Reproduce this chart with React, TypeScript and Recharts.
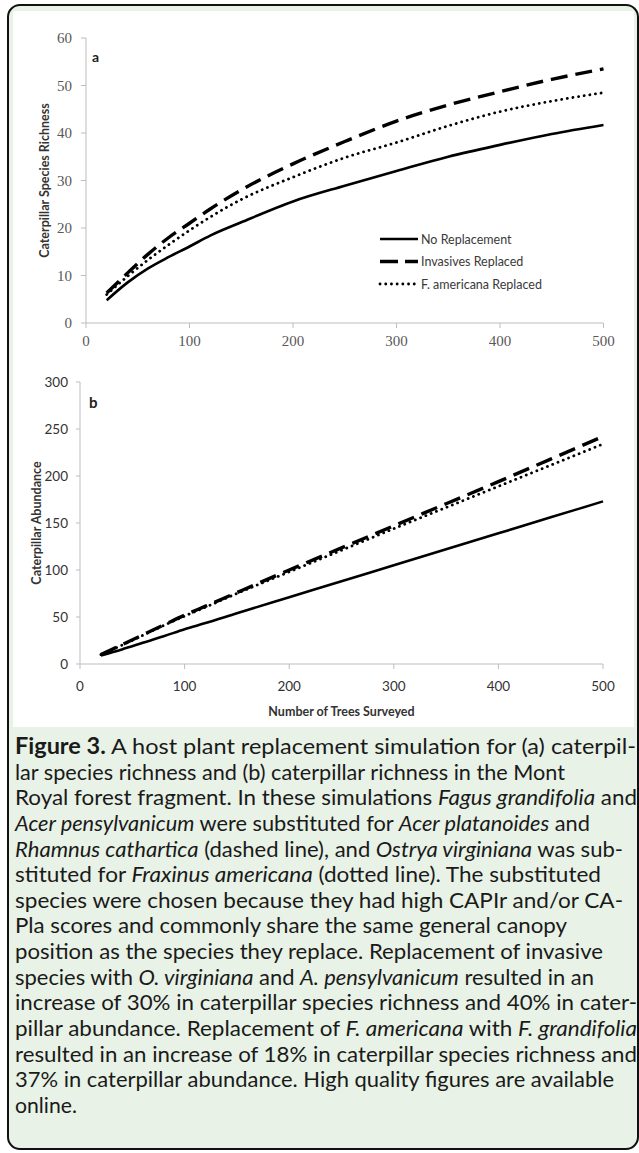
import React from 'react';
import { LineChart, Line, XAxis, YAxis } from 'recharts';

// ---- data ----
const trees = [20, 40, 60, 80, 100, 120, 150, 200, 250, 300, 350, 400, 450, 500];
const richNoReplacement = [4.8, 8.5, 11.5, 13.9, 16.1, 18.4, 21.2, 25.6, 28.9, 32.0, 35.0, 37.5, 39.8, 41.7];
const richInvasives = [6.3, 10.5, 14.5, 18.0, 21.0, 24.0, 28.0, 33.5, 38.2, 42.5, 45.9, 48.7, 51.3, 53.5];
const richFraxinus = [6.0, 9.8, 13.3, 16.5, 19.5, 22.3, 26.0, 30.7, 34.8, 38.0, 41.5, 44.5, 46.7, 48.5];
const abunNoReplacement = [9, 15.5, 22.5, 29.5, 37, 43.5, 54, 71, 88, 105, 122, 139, 156, 173];
const abunInvasives = [10, 20.5, 31, 41.5, 52, 61.5, 76, 100, 123.5, 147, 170.5, 194, 218, 242];
const abunFraxinus = [10, 20, 30.5, 41, 51, 60.5, 75, 98, 121, 144, 166.5, 189, 211.5, 234];
const xTicks = [0, 100, 200, 300, 400, 500];
const richTicks = [0, 10, 20, 30, 40, 50, 60];
const abunTicks = [0, 50, 100, 150, 200, 250, 300];
const seriesNames = ['No Replacement', 'Invasives Replaced', 'F. americana Replaced'];

// caption lines: [text, italic?] segments
const captionLines: [string, string][][] = [
  [['Figure 3.', 'b'], [' A host plant replacement simulation for (a) caterpil-', 'n']],
  [['lar species richness and (b) caterpillar richness in the Mont', 'n']],
  [['Royal forest fragment. In these simulations ', 'n'], ['Fagus grandifolia', 'i'], [' and', 'n']],
  [['Acer pensylvanicum', 'i'], [' were substituted for ', 'n'], ['Acer platanoides', 'i'], [' and', 'n']],
  [['Rhamnus cathartica', 'i'], [' (dashed line), and ', 'n'], ['Ostrya virginiana', 'i'], [' was sub-', 'n']],
  [['stituted for ', 'n'], ['Fraxinus americana', 'i'], [' (dotted line). The substituted', 'n']],
  [['species were chosen because they had high CAPIr and/or CA-', 'n']],
  [['Pla scores and commonly share the same general canopy', 'n']],
  [['position as the species they replace. Replacement of invasive', 'n']],
  [['species with ', 'n'], ['O. virginiana', 'i'], [' and ', 'n'], ['A. pensylvanicum', 'i'], [' resulted in an', 'n']],
  [['increase of 30% in caterpillar species richness and 40% in cater-', 'n']],
  [['pillar abundance. Replacement of ', 'n'], ['F. americana', 'i'], [' with ', 'n'], ['F. grandifolia', 'i']],
  [['resulted in an increase of 18% in caterpillar species richness and', 'n']],
  [['37% in caterpillar abundance. High quality figures are available', 'n']],
  [['online.', 'n']],
];
const captionLineWidths = [621, 550, 622, 575, 608, 586, 608, 552, 588, 579, 622, 622, 622, 599, 62];

const dataA = trees.map((t, i) => ({ trees: t, none: richNoReplacement[i], inv: richInvasives[i], frax: richFraxinus[i] }));
const dataB = trees.map((t, i) => ({ trees: t, none: abunNoReplacement[i], inv: abunInvasives[i], frax: abunFraxinus[i] }));

const styles = [
  { strokeWidth: 2.6, strokeDasharray: undefined as string | undefined, strokeLinecap: 'butt' as const },
  { strokeWidth: 3.4, strokeDasharray: '17 8', strokeLinecap: 'butt' as const },
  { strokeWidth: 2.8, strokeDasharray: '0.1 5.6', strokeLinecap: 'round' as const },
];
const keys = ['none', 'inv', 'frax'];

const sans = 'Lato, "Open Sans", sans-serif';
const serif = '"Liberation Serif", "DejaVu Serif", serif';

const LegendBox = () => (
  <svg width={220} height={70}>
    {seriesNames.map((n, i) => {
      const y = 11 + i * 22.5;
      return (
        <g key={n}>
          <line x1={2} x2={40} y1={y} y2={y} stroke="#000" strokeWidth={styles[i].strokeWidth}
            strokeDasharray={i === 1 ? '18 7' : i === 2 ? '0.1 5.6' : undefined} strokeLinecap={styles[i].strokeLinecap} />
          <text x={43} y={y + 4.5} fontFamily={sans} fontSize={12.5} fill="#3a3a3a">{n}</text>
        </g>
      );
    })}
  </svg>
);

export default function App() {
  return (
    <div style={{ position: 'absolute', left: 0, top: 0, width: 639, height: 1153, background: '#fff', overflow: 'hidden' }}>
      <div style={{ position: 'absolute', left: 7, top: 4, width: 628, height: 1142, border: '2px solid #111', borderRadius: 13, background: '#e8f2e6' }} />
      <div style={{ position: 'absolute', left: 13, top: 11, width: 621, height: 716, background: '#fff' }} />

      {/* Chart a */}
      <div style={{ position: 'absolute', left: 0, top: 0 }}>
        <LineChart width={639} height={360} data={dataA} margin={{ top: 38, right: 35.5, left: 46, bottom: 17 }}>
          <XAxis dataKey="trees" type="number" domain={[0, 500]} ticks={xTicks} stroke="#bdbdbd"
            tickSize={5} tickMargin={7} height={20}
            tick={{ fill: '#595959', fontFamily: serif, fontSize: 15 }} />
          <YAxis type="number" domain={[0, 60]} ticks={richTicks} stroke="#bdbdbd" width={40}
            tickSize={5} tickMargin={9}
            tick={{ fill: '#595959', fontFamily: serif, fontSize: 15 }}
            label={{ value: 'Caterpillar Species Richness', angle: -90, position: 'insideLeft', offset: -1,
              style: { textAnchor: 'middle', fontFamily: sans, fontWeight: 700, fontSize: 12.5, fill: '#333' } }} />
          {keys.map((k, i) => (
            <Line key={k} dataKey={k} name={seriesNames[i]} stroke="#000" dot={false} isAnimationActive={false}
              type="monotone" strokeWidth={styles[i].strokeWidth} strokeDasharray={styles[i].strokeDasharray}
              strokeLinecap={styles[i].strokeLinecap} />
          ))}
        </LineChart>
      </div>
      <div style={{ position: 'absolute', left: 378, top: 228 }}><LegendBox /></div>
      <div style={{ position: 'absolute', left: 92, top: 48, fontFamily: sans, fontWeight: 700, fontSize: 14, color: '#222' }}>a</div>

      {/* Chart b */}
      <div style={{ position: 'absolute', left: 0, top: 360 }}>
        <LineChart width={639} height={375} data={dataB} margin={{ top: 22, right: 36, left: 30, bottom: 11 }}>
          <XAxis dataKey="trees" type="number" domain={[0, 500]} ticks={xTicks} stroke="#bdbdbd"
            tickSize={5} tickMargin={12} height={60}
            tick={{ fill: '#333', fontFamily: sans, fontSize: 13.5 }}
            label={{ value: 'Number of Trees Surveyed', position: 'insideBottom', offset: 8,
              style: { fontFamily: sans, fontWeight: 700, fontSize: 12.5, fill: '#333' } }} />
          <YAxis type="number" domain={[0, 300]} ticks={abunTicks} stroke="#bdbdbd" width={50}
            tickSize={4} tickMargin={8}
            tick={{ fill: '#333', fontFamily: sans, fontSize: 13.5 }}
            label={{ value: 'Caterpillar Abundance', angle: -90, position: 'insideLeft', offset: 7,
              style: { textAnchor: 'middle', fontFamily: sans, fontWeight: 700, fontSize: 12.5, fill: '#333' } }} />
          {keys.map((k, i) => (
            <Line key={k} dataKey={k} name={seriesNames[i]} stroke="#000" dot={false} isAnimationActive={false}
              type="monotone" strokeWidth={styles[i].strokeWidth} strokeDasharray={styles[i].strokeDasharray}
              strokeLinecap={styles[i].strokeLinecap} />
          ))}
        </LineChart>
      </div>
      <div style={{ position: 'absolute', left: 89, top: 393, fontFamily: sans, fontWeight: 700, fontSize: 15, color: '#222' }}>b</div>

      {/* Caption */}
      <svg style={{ position: 'absolute', left: 0, top: 728 }} width={639} height={400}>
        {captionLines.map((segs, i) => (
          <text key={i} x={15} y={26 + i * 25.64} fontFamily={sans} fontSize={22} fill="#1a1a1a"
            textLength={captionLineWidths[i]} lengthAdjust="spacingAndGlyphs">
            {segs.map(([t, s], j) => (
              <tspan key={j} fontWeight={s === 'b' ? 700 : 400} fontStyle={s === 'i' ? 'italic' : 'normal'}
                style={{ whiteSpace: 'pre' }}>{t}</tspan>
            ))}
          </text>
        ))}
      </svg>
    </div>
  );
}
